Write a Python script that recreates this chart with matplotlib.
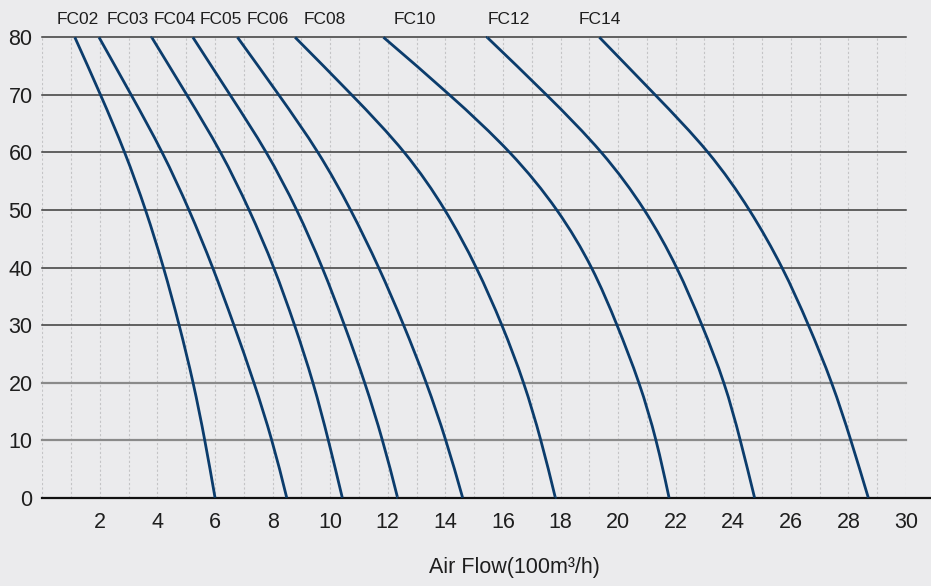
import matplotlib
matplotlib.use("Agg")
import matplotlib.pyplot as plt
from matplotlib.path import Path
from matplotlib.patches import PathPatch

plt.rcParams['font.family'] = ['Liberation Sans', 'DejaVu Sans']

# Pressure levels (y) at which air flow was read
pressure = [80, 70, 60, 50, 40, 30, 20, 10, 0]

# Air flow (100 m3/h) for each model at the pressure levels above
models = ["FC02", "FC03", "FC04", "FC05", "FC06", "FC08", "FC10", "FC12", "FC14"]
fc02 = [1.13, 2.03, 2.88, 3.60, 4.22, 4.76, 5.25, 5.65, 6.00]
fc03 = [1.97, 3.09, 4.19, 5.11, 5.93, 6.66, 7.36, 7.99, 8.49]
fc04 = [3.80, 5.02, 6.23, 7.20, 8.06, 8.77, 9.42, 9.94, 10.42]
fc05 = [5.23, 6.52, 7.82, 8.86, 9.74, 10.50, 11.21, 11.83, 12.34]
fc06 = [6.78, 8.22, 9.62, 10.73, 11.70, 12.56, 13.35, 14.03, 14.60]
fc08 = [8.78, 10.76, 12.66, 14.03, 15.10, 15.98, 16.74, 17.33, 17.82]
fc10 = [11.85, 14.17, 16.32, 17.94, 19.13, 19.97, 20.75, 21.34, 21.77]
fc12 = [15.45, 17.53, 19.50, 20.97, 22.07, 22.92, 23.71, 24.25, 24.74]
fc14 = [19.35, 21.29, 23.21, 24.60, 25.73, 26.62, 27.44, 28.09, 28.69]
series = [fc02, fc03, fc04, fc05, fc06, fc08, fc10, fc12, fc14]

x_ticks = list(range(2, 31, 2))
y_ticks = list(range(0, 81, 10))
x_label = "Air Flow(100m\u00b3/h)"

# layout (label x positions in data units)
label_x = [1.24, 2.97, 4.59, 6.21, 7.82, 9.82, 12.94, 16.21, 19.36]

BG = "#ebebed"
LINE = "#0b3c6c"
TXT = "#1e1e1e"


def smooth_path(xs, ys):
    """Clamped cubic B-spline path using the read points as its control polygon."""
    q = [(xs[0], ys[0])] * 2 + list(zip(xs, ys)) + [(xs[-1], ys[-1])] * 2
    verts, codes = [], []
    for i in range(1, len(q) - 2):
        a, b, c, d = q[i - 1], q[i], q[i + 1], q[i + 2]
        b0 = ((a[0] + 4 * b[0] + c[0]) / 6, (a[1] + 4 * b[1] + c[1]) / 6)
        b1 = ((2 * b[0] + c[0]) / 3, (2 * b[1] + c[1]) / 3)
        b2 = ((b[0] + 2 * c[0]) / 3, (b[1] + 2 * c[1]) / 3)
        b3 = ((b[0] + 4 * c[0] + d[0]) / 6, (b[1] + 4 * c[1] + d[1]) / 6)
        if not verts:
            verts.append(b0)
            codes.append(Path.MOVETO)
        verts += [b1, b2, b3]
        codes += [Path.CURVE4] * 3
    return Path(verts, codes)


W, H = 931, 586
fig = plt.figure(figsize=(W / 100, H / 100), dpi=100, facecolor=BG)
left, right, top, bottom = 42.3, 906.0, 37.3, 497.7
ax = fig.add_axes([left / W, 1 - bottom / H, (right - left) / W, (bottom - top) / H])
ax.set_facecolor(BG)
ax.set_xlim(0, 30)
ax.set_ylim(0, 80)

for s in ax.spines.values():
    s.set_visible(False)

# vertical dotted grid
for xv in range(0, 31):
    ax.axvline(xv, color="#c4c4c6", lw=0.8, ls=(0, (2, 2)), zorder=1)

# horizontal grid lines
for yv in y_ticks[1:]:
    if yv in (10, 20):
        ax.axhline(yv, color="#8a8a8a", lw=1.6, zorder=2, clip_on=False)
    else:
        ax.axhline(yv, color="#3a3a3a", lw=1.1, zorder=2, clip_on=False)

# bottom axis line extends to right edge
ax.plot([0, (W - left) / (right - left)], [0, 0], transform=ax.transAxes,
        color="#111111", lw=1.6, clip_on=False, zorder=3)

for name, xs in zip(models, series):
    patch = PathPatch(smooth_path(xs, pressure), facecolor="none",
                      edgecolor=LINE, lw=2.0, zorder=4, clip_on=False,
                      capstyle="butt", joinstyle="round")
    ax.add_patch(patch)

for name, lx in zip(models, label_x):
    ax.text(lx, 83.1, name, ha="center", va="center", fontsize=12.5,
            color=TXT, clip_on=False)

ax.set_xticks(x_ticks)
ax.set_xticklabels([str(v) for v in x_ticks])
ax.set_yticks(y_ticks)
ax.set_yticklabels([str(v) for v in y_ticks])
ax.tick_params(axis="both", length=0, labelsize=15.5, labelcolor=TXT)
ax.tick_params(axis="x", pad=10)
ax.tick_params(axis="y", pad=7)

fig.text(514.5 / W, 1 - 568 / H, x_label, ha="center", va="center",
         fontsize=15.5, color=TXT)

fig.savefig("out.png", dpi=100, facecolor=BG)
